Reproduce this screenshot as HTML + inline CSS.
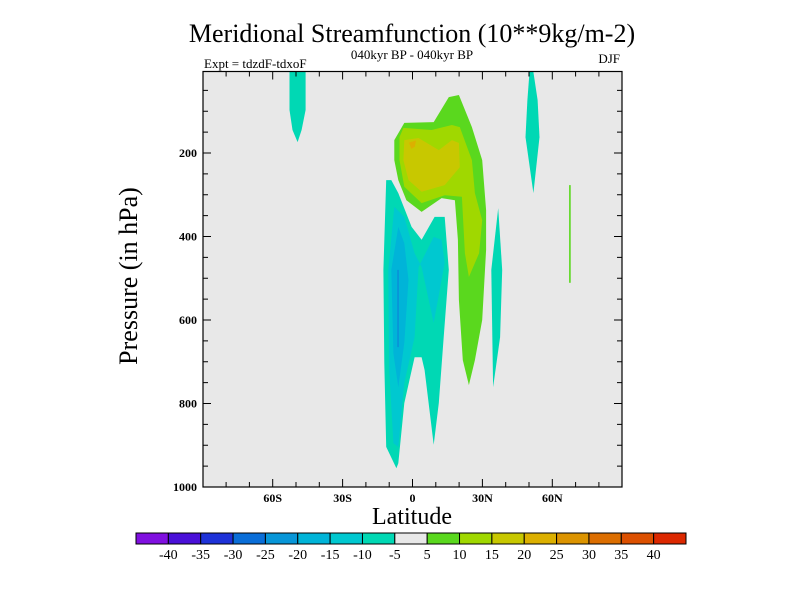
<!DOCTYPE html>
<html><head><meta charset="utf-8"><style>
html,body{margin:0;padding:0;background:#fff;}
svg{display:block;font-family:"Liberation Serif",serif;}
</style></head><body>
<svg id="chart" width="800" height="600" viewBox="0 0 800 600">
<text x="412" y="42" font-size="26" text-anchor="middle">Meridional Streamfunction (10**9kg/m-2)</text>
<text x="412" y="59" font-size="13" text-anchor="middle">040kyr BP - 040kyr BP</text>
<text x="204" y="68" font-size="13">Expt = tdzdF-tdxoF</text>
<text x="620" y="63" font-size="13" text-anchor="end">DJF</text>
<rect x="203" y="71.5" width="419" height="415.5" fill="#e8e8e8"/>
<g id="contours"></g>
<rect x="203" y="71.5" width="419" height="415.5" fill="none" stroke="#000" stroke-width="1.2"/>
<g id="axes"></g>
<text transform="translate(137,276) rotate(-90)" font-size="26" text-anchor="middle">Pressure (in hPa)</text>
<text x="412" y="524" font-size="24" text-anchor="middle">Latitude</text>
<g id="colorbar"></g>
</svg>
<script>
const latTicks = [-60, -30, 0, 30, 60];
const latTickLabels = ["60S", "30S", "0", "30N", "60N"];
const presTicks = [200, 400, 600, 800, 1000];
const presTickLabels = ["200", "400", "600", "800", "1000"];
const barLabels = ["-40","-35","-30","-25","-20","-15","-10","-5","5","10","15","20","25","30","35","40"];
const levelColors = ["#8010e0","#4a10d8","#1e32d8","#0a6ed8","#0896d8","#00b4d8","#00c8d0","#00d8b4","#e8e8e8","#5ad81e","#a0d800","#c8c800","#dcb000","#dc9400","#dc6e00","#dc5000","#dc2800"];
const levelBounds = [-40,-35,-30,-25,-20,-15,-10,-5,5,10,15,20,25,30,35,40];
// contour regions: value, then [lat, pressure] vertices
const regionValues = [-7, -7, -7, -7, 7, 7, 12, 17, 22, -12, -17, -22];
const regionLats = [
 [-52.8,-45.9,-45.9,-47.6,-49.3,-51.5,-52.8],
 [36.8,38.5,37.6,34.6,33.8],
 [50.2,51.9,53.7,54.5,51.9,48.5,49.3],
 [-11.3,-12.5,-12.1,-11.3,-6.9,-6.1,-3.5,0.9,3.9,5.2,9.1,11.3,13.4,15.6,13.8,9.5,3.9,-0.4,-6.1,-9.1],
 [67.2,67.9,67.9,67.2],
 [-7.8,-3.5,9.1,15.6,19.9,25.5,29.9,31.6,31.6,29.9,26.8,24.2,21.6,19.9,19.5,18.2,12.5,3.9,-2.6,-6.1,-7.8],
 [-5.6,-3.9,8.2,16.9,20.3,25.5,26.8,29.9,28.6,24.2,22.5,21.2,13.8,3.9,-3.5,-5.6],
 [-3.5,2.6,11.3,16.9,19.9,20.3,13.8,3.9,-1.7,-3.9],
 [-1.5,1.5,1,-0.5],
 [-7.8,-10.4,-10,-8.2,-6.1,-3.5,0.9,2.6,9.1,12.5,13.8,9.1,3.9,0.9,-3.5],
 [-6.1,-9.1,-8.2,-6.1,-3.5,-1.7,-3.5],
 [-6.6,-5.8,-5.8,-6.6]
];
const regionPres = [
 [6,6,97,145,174,145,97],
 [332,480,641,761,480],
 [6,6,73,162,296,162,73],
 [265,480,703,904,955,943,799,689,689,720,899,799,641,480,353,353,408,377,296,265],
 [277,277,511,511],
 [169,128,126,66,61,138,217,337,432,600,696,756,696,552,408,313,308,341,313,265,217],
 [162,140,145,133,138,217,296,361,440,497,440,305,301,320,281,217],
 [169,164,193,169,176,234,277,293,265,217],
 [175,170,185,190],
 [329,480,720,895,904,751,641,473,401,408,463,607,473,440,353],
 [377,480,680,761,655,504,416],
 [480,480,665,665]
];
const NS="http://www.w3.org/2000/svg";
function xOf(lat){return 412.5 + lat*2.33;}
function yOf(p){return 69.5 + p*0.4175;}
function colorOf(v){let i=0;while(i<levelBounds.length && v>=levelBounds[i]) i++;return levelColors[i];}
const cg=document.getElementById('contours');
regionValues.forEach((v,k)=>{
  const pts=regionLats[k].map((la,j)=>xOf(la).toFixed(1)+","+yOf(regionPres[k][j]).toFixed(1)).join(" ");
  const pg=document.createElementNS(NS,'polygon');
  pg.setAttribute('points',pts);
  pg.setAttribute('fill',colorOf(v));
  
  
  cg.appendChild(pg);
});
const ag=document.getElementById('axes');
function line(x1,y1,x2,y2,name){const l=document.createElementNS(NS,'line');
  l.setAttribute('x1',x1);l.setAttribute('y1',y1);l.setAttribute('x2',x2);l.setAttribute('y2',y2);
  l.setAttribute('stroke','#000');l.setAttribute('stroke-width','1');
  
  
  ag.appendChild(l);}
function text(x,y,s,anchor,name){const t=document.createElementNS(NS,'text');
  t.setAttribute('x',x);t.setAttribute('y',y);t.setAttribute('font-size','12');t.setAttribute('font-weight','bold');
  t.setAttribute('text-anchor',anchor);t.textContent=s;
  
  
  ag.appendChild(t);}
for(let la=-80;la<=80;la+=10){const x=xOf(la);const major=latTicks.includes(la);
  line(x,487,x,487-(major?8:5),'x-tick');line(x,71.5,x,71.5+(major?8:5),'x-tick-top');}
latTicks.forEach((la,i)=>text(xOf(la),502,latTickLabels[i],'middle','x-tick-label'));
for(let p=50;p<1000;p+=50){const y=yOf(p);const major=presTicks.includes(p);
  line(203,y,203+(major?8:5),y,'y-tick');line(622,y,622-(major?8:5),y,'y-tick-right');}
presTicks.forEach((p,i)=>text(197,yOf(p)+4,presTickLabels[i],'end','y-tick-label'));
const cb=document.getElementById('colorbar');
const bx=136,bw=550/levelColors.length;
levelColors.forEach((c,i)=>{const r=document.createElementNS(NS,'rect');
  r.setAttribute('x',bx+i*bw);r.setAttribute('y',533);r.setAttribute('width',bw);r.setAttribute('height',11);
  r.setAttribute('fill',c);r.setAttribute('stroke','#000');r.setAttribute('stroke-width','1');
  
  
  cb.appendChild(r);});
barLabels.forEach((s,i)=>{const t=document.createElementNS(NS,'text');
  t.setAttribute('x',bx+(i+1)*bw);t.setAttribute('y',559);t.setAttribute('font-size','14');
  t.setAttribute('text-anchor','middle');t.textContent=s;
  
  
  cb.appendChild(t);});
</script>
</body></html>
